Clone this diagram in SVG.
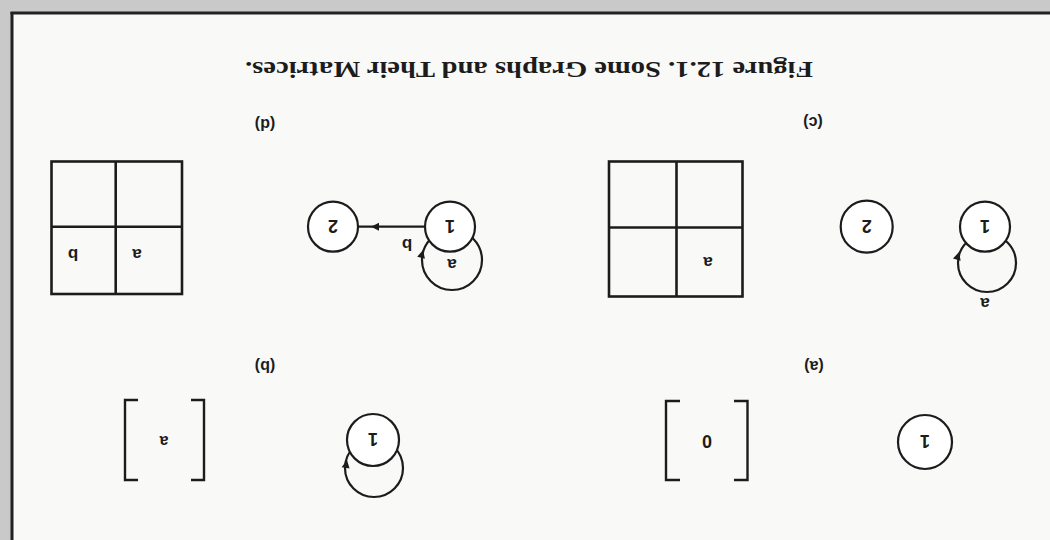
<svg xmlns="http://www.w3.org/2000/svg" xmlns:xlink="http://www.w3.org/1999/xlink" width="1050" height="540" viewBox="0 0 1050 540">
  <style>
    .node { fill: #ffffff; stroke: #1c1c1c; stroke-width: 2.2; }
    .loop { fill: none; stroke: #1c1c1c; stroke-width: 2.2; }
    .edge { fill: none; stroke: #1c1c1c; stroke-width: 2.2; }
    .grid { fill: none; stroke: #1c1c1c; stroke-width: 2.6; }
    .brk { fill: none; stroke: #1c1c1c; stroke-width: 2.4; stroke-linejoin: miter; }
    .lbl { font-family: "Liberation Sans", Arial, sans-serif; font-weight: bold; font-size: 18px; fill: #1c1c1c; text-anchor: middle; }
    .cell { font-family: "Liberation Sans", Arial, sans-serif; font-weight: bold; font-size: 17px; fill: #1c1c1c; text-anchor: middle; }
    .sub { font-family: "Liberation Sans", Arial, sans-serif; font-weight: bold; font-size: 16px; fill: #1c1c1c; text-anchor: middle; }
    .cap { font-family: "Liberation Serif", "Times New Roman", serif; font-weight: bold; font-size: 23px; fill: #1c1c1c; text-anchor: middle; }
    .ah { fill: #1c1c1c; stroke: none; }
  </style>
  <defs>
    <path id="ah" d="M0,0 L-8,-4 L-8,4 Z"/>
  </defs>
  <rect x="0" y="0" width="1050" height="540" fill="#f9f9f8"/>
  <g id="figure" transform="rotate(180 525 270)">
    <!-- scan edge / frame -->
    <g id="frame">
      <rect x="1039" y="0" width="11" height="540" fill="#c9c9c9"/>
      <rect x="0" y="528" width="1050" height="12" fill="#c9c9c9"/>
      <line x1="1038" y1="0" x2="1038" y2="528" stroke="#222" stroke-width="3"/>
      <line x1="0" y1="527" x2="1039.5" y2="527" stroke="#222" stroke-width="3"/>
    </g>

    <!-- connectors (self-loops and edges) -->
    <g id="connectors">
      <circle class="loop" cx="676" cy="72" r="29"/>
      <use href="#ah" class="ah" transform="translate(703,80) rotate(100)"/>
      <circle class="loop" cx="63" cy="277" r="29"/>
      <use href="#ah" class="ah" transform="translate(91,288) rotate(106)"/>
      <circle class="loop" cx="598" cy="280" r="30"/>
      <use href="#ah" class="ah" transform="translate(627,290) rotate(104)"/>
      <line class="edge" x1="625" y1="313.3" x2="692" y2="313.3"/>
      <use href="#ah" class="ah" transform="translate(679,313.3)"/>
    </g>

    <!-- (a) -->
    <g id="a-node1">
      <circle class="node" cx="125" cy="98" r="27"/>
      <text class="lbl" x="125" y="105">1</text>
    </g>
    <g id="a-matrix">
      <path class="brk" d="M316,60 H302.5 V139 H316"/>
      <path class="brk" d="M370,60 H384 V139 H370"/>
      <text class="lbl" x="343" y="105">0</text>
    </g>
    <text class="sub" x="236" y="179">(a)</text>

    <!-- (b) -->
    <g id="b-node1">
      <circle class="node" cx="677" cy="100" r="26"/>
      <text class="lbl" x="677" y="107">1</text>
    </g>
    <g id="b-matrix">
      <path class="brk" d="M859,60 H846 V140 H859"/>
      <path class="brk" d="M912,60 H925 V140 H912"/>
      <text class="sub" x="886" y="104" font-size="13">a</text>
    </g>
    <text class="sub" x="785" y="179">(b)</text>

    <!-- (c) -->
    <g id="c-node1">
      <circle class="node" cx="65" cy="313.3" r="25"/>
      <text class="lbl" x="65" y="320">1</text>
    </g>
    <text class="cell" x="65" y="242">a</text>
    <g id="c-node2">
      <circle class="node" cx="183.3" cy="313.3" r="26"/>
      <text class="lbl" x="183.3" y="320">2</text>
    </g>
    <g id="c-matrix">
      <rect class="grid" x="307.5" y="243.5" width="133.5" height="135"/>
      <line class="grid" x1="373.5" y1="243.5" x2="373.5" y2="378.5"/>
      <line class="grid" x1="307.5" y1="312.5" x2="441" y2="312.5"/>
      <text class="cell" x="342" y="283">a</text>
    </g>
    <text class="sub" x="237" y="423">(c)</text>

    <!-- (d) -->
    <g id="d-node1">
      <circle class="node" cx="600" cy="313.3" r="25"/>
      <text class="lbl" x="600" y="320">1</text>
    </g>
    <text class="cell" x="598" y="281">a</text>
    <text class="cell" x="643" y="301">b</text>
    <g id="d-node2">
      <circle class="node" cx="717" cy="313.3" r="25"/>
      <text class="lbl" x="717" y="320">2</text>
    </g>
    <g id="d-matrix">
      <rect class="grid" x="868" y="246" width="130.5" height="132.5"/>
      <line class="grid" x1="934.3" y1="246" x2="934.3" y2="378.5"/>
      <line class="grid" x1="868" y1="313.3" x2="998.5" y2="313.3"/>
      <text class="cell" x="913" y="291">a</text>
      <text class="cell" x="977" y="291">b</text>
    </g>
    <text class="sub" x="785" y="421">(d)</text>

    <text class="cap" x="521" y="478" textLength="568" lengthAdjust="spacingAndGlyphs">Figure 12.1. Some Graphs and Their Matrices.</text>
  </g>
</svg>
